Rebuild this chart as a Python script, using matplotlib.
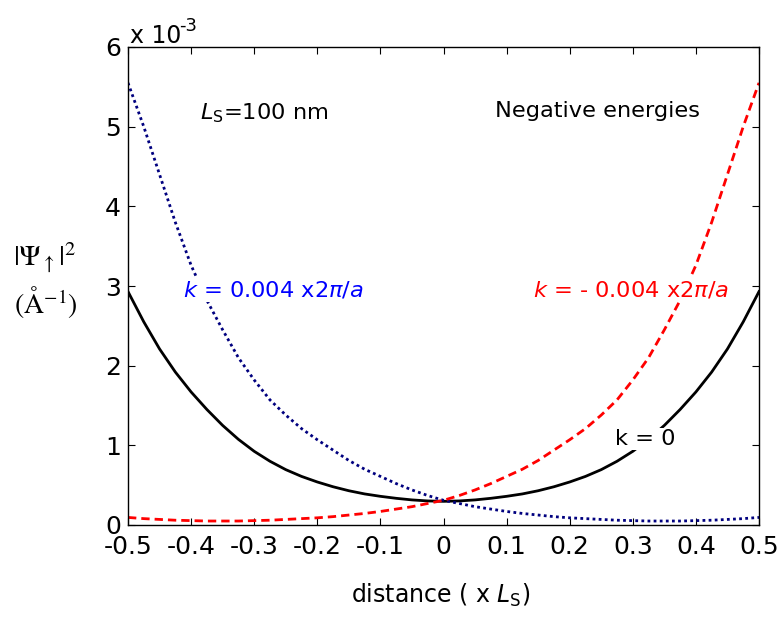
import matplotlib
matplotlib.use("Agg")
import matplotlib.pyplot as plt

plt.rcParams['font.family'] = ['DejaVu Sans']
plt.rcParams['mathtext.fontset'] = 'stix'

x = [-0.5, -0.475, -0.45, -0.425, -0.4, -0.375, -0.35, -0.325, -0.3, -0.275,
     -0.25, -0.225, -0.2, -0.175, -0.15, -0.125, -0.1, -0.075, -0.05, -0.025,
     0.0, 0.025, 0.05, 0.075, 0.1, 0.125, 0.15, 0.175, 0.2, 0.225,
     0.25, 0.275, 0.3, 0.325, 0.35, 0.375, 0.4, 0.425, 0.45, 0.475, 0.5]

k0 = [2.93, 2.55, 2.21, 1.92, 1.67, 1.45, 1.25, 1.075, 0.925, 0.80,
      0.695, 0.61, 0.54, 0.48, 0.43, 0.39, 0.36, 0.335, 0.315, 0.302,
      0.297, 0.302, 0.315, 0.335, 0.36, 0.39, 0.43, 0.48, 0.54, 0.61,
      0.695, 0.80, 0.925, 1.075, 1.25, 1.45, 1.67, 1.92, 2.21, 2.55, 2.93]

kpos = [5.55, 5.00, 4.40, 3.80, 3.26, 2.82, 2.45, 2.10, 1.82, 1.57,
        1.38, 1.21, 1.07, 0.94, 0.81, 0.70, 0.61, 0.52, 0.44, 0.37,
        0.31, 0.27, 0.23, 0.20, 0.17, 0.145, 0.125, 0.105, 0.09, 0.08,
        0.07, 0.06, 0.055, 0.05, 0.05, 0.05, 0.055, 0.06, 0.07, 0.08, 0.095]

kneg = [0.095, 0.08, 0.07, 0.06, 0.055, 0.05, 0.05, 0.05, 0.055, 0.06,
        0.07, 0.08, 0.09, 0.105, 0.125, 0.145, 0.17, 0.20, 0.23, 0.27,
        0.31, 0.37, 0.44, 0.52, 0.61, 0.70, 0.81, 0.94, 1.07, 1.21,
        1.38, 1.57, 1.82, 2.10, 2.45, 2.82, 3.26, 3.80, 4.40, 5.00, 5.55]

xticks = [-0.5, -0.4, -0.3, -0.2, -0.1, 0, 0.1, 0.2, 0.3, 0.4, 0.5]
xticklabels = ['-0.5', '-0.4', '-0.3', '-0.2', '-0.1', '0', '0.1', '0.2', '0.3', '0.4', '0.5']
yticks = [0, 1, 2, 3, 4, 5, 6]

fig = plt.figure(figsize=(7.83, 6.2), dpi=100)
ax = fig.add_axes([128/783, 95/620, (759-128)/783, (525-47)/620])

ax.plot(x, k0, color='black', lw=2.0, zorder=2)
ax.plot(x, kpos, color='#00007f', lw=2.0, linestyle=(0, (1, 1.2)), zorder=2)
ax.plot(x, kneg, color='#ff0000', lw=2.0, linestyle=(0, (3, 1.8)), zorder=2)

ax.set_xlim(-0.5, 0.5)
ax.set_ylim(0, 6)
ax.set_xticks(xticks)
ax.set_xticklabels(xticklabels)
ax.set_yticks(yticks)
ax.tick_params(direction='in', length=5, width=0.8, top=True, right=True,
               labelsize=18)
ax.tick_params(axis='x', pad=7)
ax.tick_params(axis='y', pad=5)
for s in ax.spines.values():
    s.set_linewidth(1.0)

bb = dict(facecolor='white', edgecolor='none', pad=1)
fs = 16.2
fig.text(200/783, 1 - 113/620, r'$L_{\mathrm{S}}$=100 nm', fontsize=fs,
         va='center', ha='left', math_fontfamily='dejavusans')
fig.text(495/783, 1 - 111/620, 'Negative energies', fontsize=fs, va='center', ha='left')
ax.text(-0.4135, 2.95, r'$k$ = 0.004 x2$\pi$/$a$', fontsize=fs, color='#0000ff',
        va='center', ha='left', bbox=bb, zorder=5, math_fontfamily='dejavusans')
ax.text(0.1415, 2.95, r'$k$ = - 0.004 x2$\pi$/$a$', fontsize=fs, color='#ff0000',
        va='center', ha='left', bbox=bb, zorder=5, math_fontfamily='dejavusans')
ax.text(0.272, 1.08, 'k = 0', fontsize=fs, color='black',
        va='center', ha='left', bbox=bb, zorder=5)

# axis multiplier
fig.text(130/783, 1 - 43/620, 'x 10', fontsize=17, va='baseline', ha='left')
fig.text(179/783, 1 - 31/620, '-3', fontsize=13, va='baseline', ha='left')

# y label
fig.text(45/783, 1 - 258/620, r'$|\Psi_{\uparrow}|^{2}$', fontsize=21, va='center', ha='center')
fig.text(46/783, 1 - 302/620, r'$(\mathrm{\AA}^{-1})$', fontsize=20, va='center', ha='center')

# x label
fig.text(441/783, 1 - 595/620, r'distance ( x $L_{\mathrm{S}}$)', fontsize=17,
         va='center', ha='center', math_fontfamily='dejavusans')

fig.savefig('out.png', dpi=100)
